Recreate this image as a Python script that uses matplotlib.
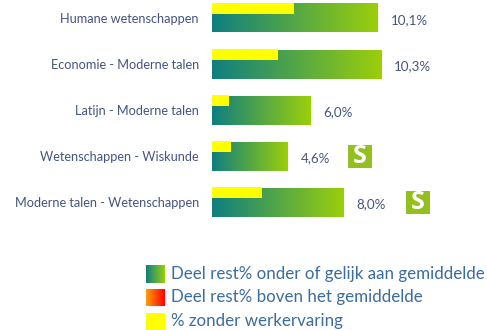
import numpy as np
import matplotlib

matplotlib.use("Agg")
import matplotlib.pyplot as plt
from matplotlib.colors import LinearSegmentedColormap
from matplotlib.patches import Rectangle

categories = [
    "Humane wetenschappen",
    "Economie - Moderne talen",
    "Latijn - Moderne talen",
    "Wetenschappen - Wiskunde",
    "Moderne talen - Wetenschappen",
]
values = [10.1, 10.3, 6.0, 4.6, 8.0]
no_experience = [5.0, 4.0, 1.05, 1.15, 3.05]
value_labels = ["10,1%", "10,3%", "6,0%", "4,6%", "8,0%"]
has_s_badge = [False, False, False, True, True]
legend_labels = [
    "Deel rest% onder of gelijk aan gemiddelde",
    "Deel rest% boven het gemiddelde",
    "% zonder werkervaring",
]

W, H = 487, 330
X0, PX_PER_PCT = 212.0, 16.42
Y0, PX_PER_ROW = 18.0, 46.1
BADGE_LEFT_PX = {3: 348, 4: 406}


def px_x(px):
    return (px - X0) / PX_PER_PCT


def px_y(py):
    return (py - Y0) / PX_PER_ROW


plt.rcParams["font.family"] = ["Lato", "DejaVu Sans"]

green_cmap = LinearSegmentedColormap.from_list("green", ["#0E7F80", "#9BCF0A"])
red_cmap = LinearSegmentedColormap.from_list("red", ["#FF9F00", "#FF0000"])
ramp = np.linspace(0, 1, 256).reshape(1, -1)

fig = plt.figure(figsize=(W / 100, H / 100), dpi=100)
ax = fig.add_axes([0, 0, 1, 1])
ax.axis("off")

bar_h = 29 / PX_PER_ROW
yellow_h = 11 / PX_PER_ROW

for i, (name, val, noexp, lab, badge) in enumerate(
    zip(categories, values, no_experience, value_labels, has_s_badge)
):
    top = i - 14.5 / PX_PER_ROW
    ax.imshow(
        ramp,
        cmap=green_cmap,
        extent=[0, val, top + bar_h, top],
        aspect="auto",
        zorder=2,
    )
    ax.add_patch(
        Rectangle((0, top - 1 / PX_PER_ROW), noexp, yellow_h, color="#FFFF00", lw=0, zorder=3)
    )
    ax.text(
        -13 / PX_PER_PCT, i + 1 / PX_PER_ROW, name, ha="right", va="center",
        fontsize=9.2, color="#44557F",
    )
    ax.text(
        val + 13 / PX_PER_PCT, i + 2 / PX_PER_ROW, lab, ha="left", va="center",
        fontsize=9.6, color="#44557F",
    )
    if badge:
        bx = px_x(BADGE_LEFT_PX[i])
        ax.add_patch(
            Rectangle(
                (bx, i - 11.5 / PX_PER_ROW), 24 / PX_PER_PCT, 23 / PX_PER_ROW,
                color="#93C01F", lw=0, zorder=3,
            )
        )
        ax.text(
            bx + 12 / PX_PER_PCT, i, "S", ha="center", va="center",
            fontsize=18, fontweight="bold", color="white", zorder=4,
            family="Open Sans",
        )

# legend, placed by hand like the original
legend_tops = [266, 289, 313]
legend_bottoms = [283, 306, 330]
legend_text_y = [274, 297, 321]
legend_fill = [green_cmap, red_cmap, None]
for top, bottom, ty, label, cmap in zip(
    legend_tops, legend_bottoms, legend_text_y, legend_labels, legend_fill
):
    if cmap is None:
        ax.add_patch(
            Rectangle(
                (px_x(146), px_y(top)), 19 / PX_PER_PCT, (bottom - top) / PX_PER_ROW,
                color="#FFFF00", lw=0,
            )
        )
    else:
        ax.imshow(
            ramp, cmap=cmap,
            extent=[px_x(146), px_x(165), px_y(bottom), px_y(top)],
            aspect="auto",
        )
    ax.text(
        px_x(171), px_y(ty), label, ha="left", va="center",
        fontsize=12.2, color="#3A6C9F",
    )

ax.set_xlim(px_x(0), px_x(W))
ax.set_ylim(px_y(H), px_y(0))

fig.savefig("out.png", dpi=100)
